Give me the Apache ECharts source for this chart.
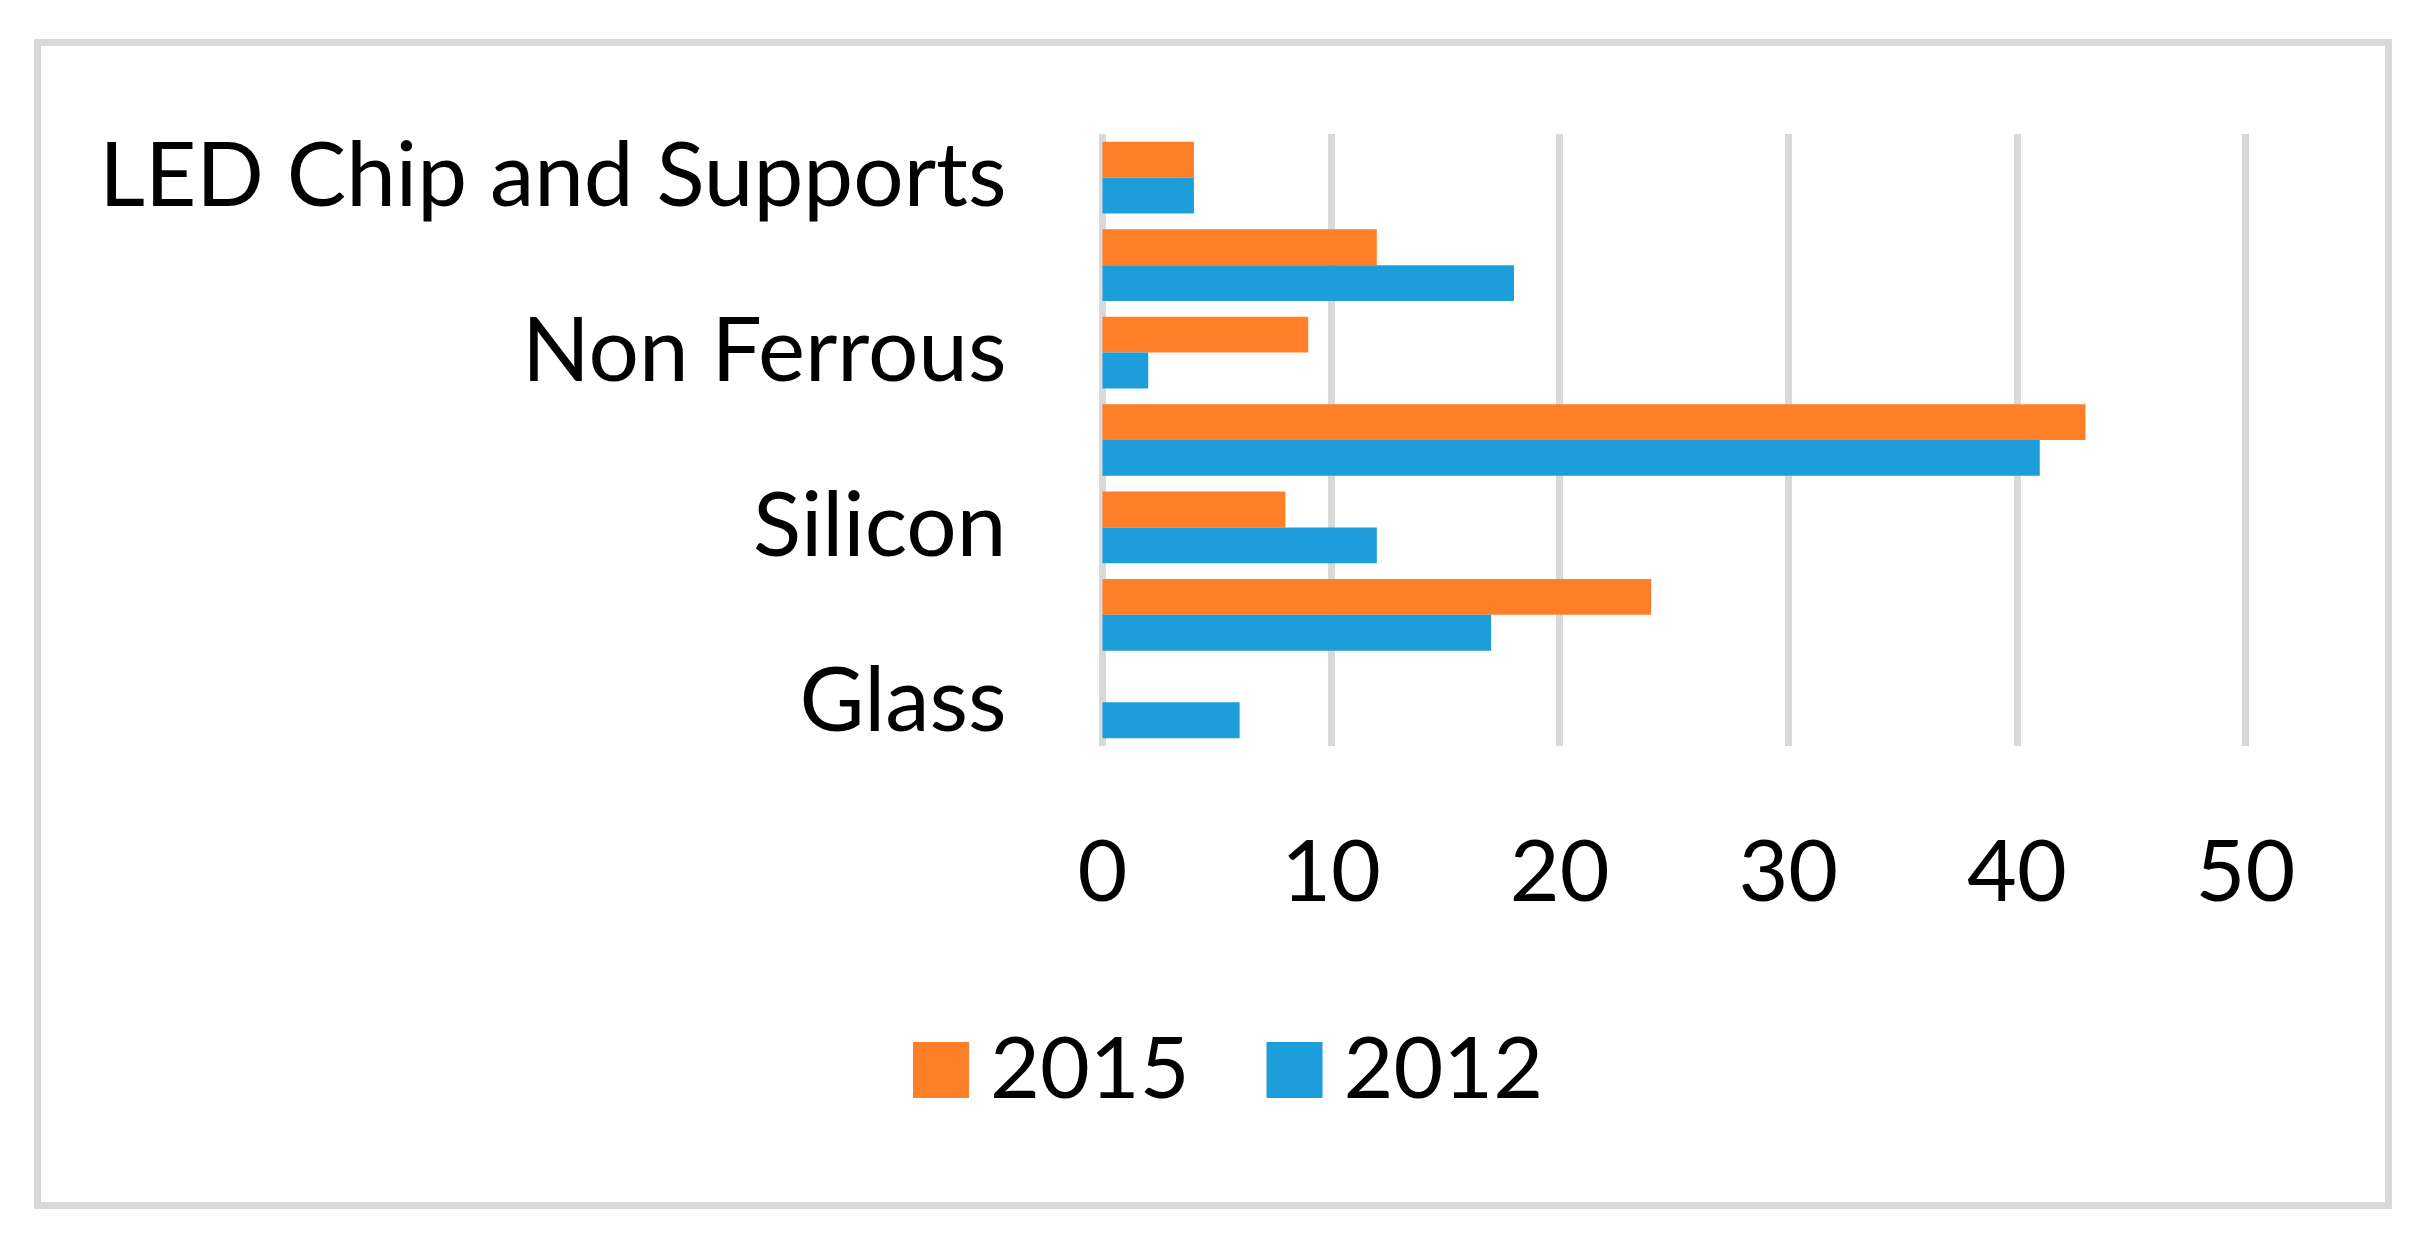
<!DOCTYPE html>
<html>
<head>
<meta charset="utf-8">
<script src="https://cdn.jsdelivr.net/npm/echarts@6/dist/echarts.min.js"></script>
<style>
html,body{margin:0;padding:0;background:#fff;}
#chart{width:2425px;height:1237px;}
</style>
</head>
<body>
<div id="chart"></div>
<script>
// Categories from bottom to top (category axis starts at the bottom)
var categories = ['Glass', 'Plastic', 'Silicon', 'Aluminium', 'Non Ferrous', 'Ferrous', 'LED Chip and Supports'];
var values2015 = [0, 24, 8, 43, 9, 12, 4];
var values2012 = [6, 17, 12, 41, 2, 18, 4];
var xTicks = [0, 10, 20, 30, 40, 50];
var seriesNames = ['2015', '2012'];

var FONT = 'Lato';
var chart = echarts.init(document.getElementById('chart'), null, {renderer: 'canvas'});
chart.setOption({
  backgroundColor: '#ffffff',
  animation: false,
  graphic: [{
    type: 'rect',
    shape: {x: 37.5, y: 42.5, width: 2351, height: 1163},
    style: {fill: null, stroke: '#d9d9d9', lineWidth: 7},
    silent: true
  }],
  grid: {left: 1102.5, right: 2425 - 2245.5, top: 134, bottom: 1237 - 746, containLabel: false},
  legend: {
    data: seriesNames,
    left: 908,
    top: 1022,
    itemWidth: 56,
    itemHeight: 56,
    itemGap: 77,
    icon: 'rect',
    textStyle: {fontFamily: FONT, fontSize: 86, color: '#000', padding: [0, 0, 0, 16]}
  },
  xAxis: {
    type: 'value',
    min: xTicks[0],
    max: xTicks[xTicks.length - 1],
    interval: 10,
    axisLine: {show: false},
    axisTick: {show: false},
    splitLine: {show: true, lineStyle: {color: '#d9d9d9', width: 7}},
    axisLabel: {fontFamily: FONT, fontSize: 86, color: '#000', margin: 84}
  },
  yAxis: {
    type: 'category',
    data: categories,
    axisLine: {show: false},
    axisTick: {show: false},
    axisLabel: {fontFamily: FONT, fontSize: 89, color: '#000', margin: 96, interval: 1}
  },
  series: [
    {name: '2015', type: 'bar', data: values2015, itemStyle: {color: '#FE7F27'}, barGap: '0%', barCategoryGap: '18%'},
    {name: '2012', type: 'bar', data: values2012, itemStyle: {color: '#1D9DD9'}, barGap: '0%', barCategoryGap: '18%'}
  ]
});
</script>
</body>
</html>
